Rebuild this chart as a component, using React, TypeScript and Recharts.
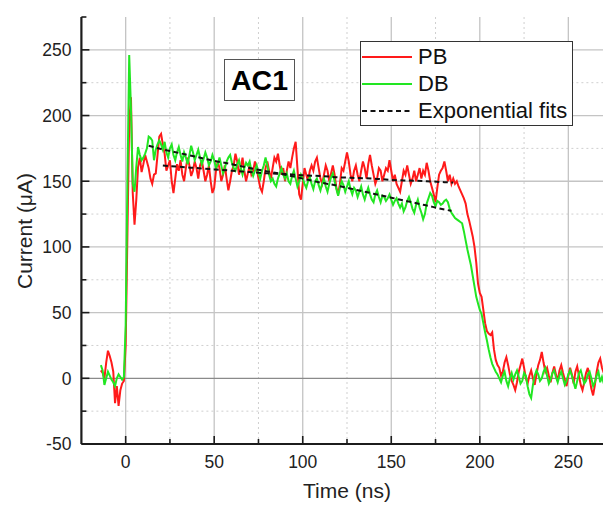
import { LineChart, Line, XAxis, YAxis, ReferenceLine } from 'recharts'

// sampling starts at -14 ns, one sample per ns
const T_START = -14

const pbCurrent = [
  6, 4, 0, 12, 21, 17, 12, 5, -19, -6, -21, -9, -4, -2,
  25, 110, 195, 214, 141, 117, 136, 161, 168, 157,
  163, 170, 165, 160, 152, 148, 155, 156, 170, 184,
  186, 178, 171, 158, 162, 166, 150, 141, 152, 163,
  158, 166, 155, 150, 160, 168, 162, 154, 158, 165,
  160, 152, 162, 166, 158, 150, 155, 162, 150, 141,
  145, 158, 165, 160, 150, 155, 162, 152, 143, 150,
  158, 162, 171, 165, 155, 160, 168, 158, 150, 156,
  162, 155, 158, 165, 160, 152, 145, 142, 150, 160,
  165, 158, 152, 160, 168, 165, 171, 162, 155, 160,
  150, 158, 165, 160, 168, 175, 180, 160, 140, 136,
  148, 160, 155, 150, 158, 162, 158, 165, 168, 160,
  152, 148, 155, 162, 158, 150, 156, 162, 155, 145,
  140, 148, 160, 158, 165, 172, 165, 155, 150, 158,
  162, 155, 150, 158, 165, 160, 152, 163, 170, 162,
  155, 148, 152, 160, 158, 150, 155, 160, 158, 166,
  158, 150, 155, 148, 145, 142, 150, 158, 155, 162,
  155, 148, 152, 158, 150, 155, 160, 152, 158, 155,
  164, 158, 150, 145, 140, 134, 145, 155, 158, 160,
  165, 158, 150, 155, 148, 152, 148, 150, 146, 143,
  140, 137, 133, 125, 120, 114, 108, 100, 88, 72,
  65, 62, 52, 42, 36, 34, 33, 35, 22, 14,
  10, 8, 2, 5, 12, 16, 10, 3, -2, -5,
  -9, -3, 5, 10, 15, 8, 0, -4, 2, 6,
  0, -5, 3, 10, 14, 20, 12, 5, 8, 2,
  -3, 4, 9, 3, -2, 6, 10, 4, -1, -6,
  2, 8, 3, -4, 5, 9, 2, -5, -9, -3,
  4, 8, 0, -8, -13, -5, 5, 12, 15, 8,
  4,
]

const dbCurrent = [
  10, 6, -5, 0, 5, 2, -1, -3, -6, 0, 3, 1, -1, 1,
  40, 150, 246, 205, 148, 142, 161, 176, 170, 166,
  168, 171, 175, 184, 183, 181, 166, 174, 178, 181,
  178, 174, 180, 172, 168, 175, 178, 170, 166, 172,
  176, 170, 165, 172, 168, 163, 170, 177, 172, 166,
  170, 174, 168, 163, 167, 172, 168, 162, 165, 170,
  166, 160, 163, 168, 162, 156, 160, 165, 168, 170,
  164, 160, 158, 163, 166, 160, 155, 160, 164, 162,
  165, 158, 154, 158, 162, 156, 152, 158, 162, 168,
  162, 155, 150, 152, 148, 146, 152, 156, 160, 155,
  152, 156, 150, 148, 154, 158, 152, 146, 150, 155,
  152, 148, 145, 150, 153, 148, 144, 150, 152, 147,
  143, 148, 152, 146, 142, 148, 153, 156, 150, 144,
  139, 145, 150, 147, 142, 146, 150, 144, 140, 145,
  143, 138, 142, 146, 140, 136, 141, 145, 140, 136,
  134, 140, 143, 138, 134, 139, 138, 135, 137, 140,
  136, 132, 135, 137, 133, 130, 133, 127, 130, 135,
  138, 134, 129, 126, 132, 136, 130, 126, 121, 125,
  133, 137, 141, 139, 134, 131, 135, 134, 132, 133,
  135, 136, 134, 129, 126, 124, 122, 121, 120, 119,
  118, 112, 105, 98, 92, 86, 78, 70, 62, 57,
  52, 49, 42, 35, 29, 22, 16, 11, 8, 5,
  3, 0, -3, 2, 5, -2, -6, 0, 4, -1,
  3, 6, 1, -4, -2, 4, 2, -6, -12, -15,
  -5, 2, 6, 3, -2, 0, 5, 8, 2, -4,
  -1, 4, 6, 1, -3, 2, 5, 0, -5, -2,
  3, 6, 2, -3, -8, -2, 4, 6, 1, -4,
  -2, 3, 5, 0, -6, -3, 2, 5, -3, 1,
  -4,
]

const fitTimeDb = [13, 20, 30, 40, 50, 60, 70, 80, 90, 100, 110, 120, 130, 140, 150, 160, 170, 180, 184]
const fitDb = [177, 174.5, 171.5, 168.5, 165.5, 163, 160, 157.5, 155, 152, 149, 146.5, 143.5, 140.5, 137.5, 134.5, 131.5, 128.5, 127.5]
const fitTimePb = [21, 30, 40, 50, 60, 70, 80, 90, 100, 110, 120, 130, 140, 150, 160, 170, 180, 185]
const fitPb = [162, 161, 160, 159, 158, 157, 156, 155.5, 154.5, 154, 153, 152.5, 152, 151, 150.5, 150, 149.3, 149]

const xTicks = [0, 25, 50, 75, 100, 125, 150, 175, 200, 225, 250, 275]
const yTicks = [-50, -25, 0, 25, 50, 75, 100, 125, 150, 175, 200, 225, 250, 275]
const xMajorGrid = [0, 50, 100, 150, 200, 250]
const xMinorGrid = [25, 75, 125, 175, 225]
const yMajorGrid = [50, 100, 150, 200, 250]
const yMinorGrid = [-25, 25, 75, 125, 175, 225]

const legendItems = [
  { label: 'PB', color: '#ff1a1a', dash: undefined },
  { label: 'DB', color: '#22e622', dash: undefined },
  { label: 'Exponential fits', color: '#111', dash: '5 3.5' },
]

const FONT = '"Liberation Sans", Arial, sans-serif'
const AXIS = '#1c1c1c'
const TEXT = '#222'

const toPoints = (ts: number[], vs: number[]) => ts.map((t, i) => ({ t, v: vs[i] }))
const timeNs = pbCurrent.map((_, i) => T_START + i)
const pbData = toPoints(timeNs, pbCurrent)
const dbData = toPoints(timeNs, dbCurrent)
const fitPbData = toPoints(fitTimePb, fitPb)
const fitDbData = toPoints(fitTimeDb, fitDb)

const isMajor = (v: number) => v % 50 === 0

function BottomTick(props: any) {
  const { x, y, payload } = props
  const major = isMajor(payload.value)
  return (
    <g>
      <line x1={x} x2={x} y1={y} y2={y - (major ? 8 : 5)} stroke={AXIS} strokeWidth={1.6} />
      {major && (
        <text x={x} y={y + 24} textAnchor="middle" fontSize={17.5} fill={TEXT} fontFamily={FONT}>
          {payload.value}
        </text>
      )}
    </g>
  )
}

function TopTick(props: any) {
  const { x, y, payload } = props
  const major = isMajor(payload.value)
  return <line x1={x} x2={x} y1={y} y2={y + (major ? 8 : 5)} stroke={AXIS} strokeWidth={1.6} />
}

function LeftTick(props: any) {
  const { x, y, payload } = props
  const major = isMajor(payload.value)
  return (
    <g>
      <line x1={x} x2={x + (major ? 8 : 5)} y1={y} y2={y} stroke={AXIS} strokeWidth={1.6} />
      {major && (
        <text x={x - 10} y={y + 6.3} textAnchor="end" fontSize={17.5} fill={TEXT} fontFamily={FONT}>
          {payload.value}
        </text>
      )}
    </g>
  )
}

export default function App() {
  return (
    <div
      style={{
        position: 'absolute',
        left: 0,
        top: 0,
        width: 603,
        height: 505,
        overflow: 'hidden',
        background: '#fff',
        fontFamily: FONT,
      }}
    >
      <LineChart width={620} height={505} margin={{ top: 17, right: 7.4, left: 0, bottom: 0 }}>
        {yMinorGrid.map((v) => (
          <ReferenceLine key={`ym${v}`} y={v} xAxisId="bottom" stroke="#cfcfcf" strokeDasharray="2 3" />
        ))}
        {xMinorGrid.map((v) => (
          <ReferenceLine key={`xm${v}`} x={v} xAxisId="bottom" stroke="#cfcfcf" strokeDasharray="2 3" />
        ))}
        {yMajorGrid.map((v) => (
          <ReferenceLine key={`yM${v}`} y={v} xAxisId="bottom" stroke="#c4c4c4" strokeWidth={1.3} />
        ))}
        {xMajorGrid.map((v) => (
          <ReferenceLine key={`xM${v}`} x={v} xAxisId="bottom" stroke="#c4c4c4" strokeWidth={1.3} />
        ))}
        <ReferenceLine y={0} xAxisId="bottom" stroke="#8a8a8a" strokeWidth={1.2} />

        <XAxis
          xAxisId="top"
          orientation="top"
          type="number"
          dataKey="t"
          domain={[-25, 275]}
          ticks={xTicks}
          interval={0}
          allowDataOverflow
          height={0}
          tickSize={0}
          tickMargin={0}
          tickLine={false}
          tick={<TopTick />}
          axisLine={{ stroke: AXIS, strokeWidth: 1.6 }}
        />
        <XAxis
          xAxisId="bottom"
          type="number"
          dataKey="t"
          domain={[-25, 275]}
          ticks={xTicks}
          interval={0}
          allowDataOverflow
          height={61}
          tickSize={0}
          tickMargin={0}
          tickLine={false}
          tick={<BottomTick />}
          axisLine={{ stroke: AXIS, strokeWidth: 2.2 }}
          label={{ value: 'Time (ns)', position: 'insideBottom', offset: 7, fontSize: 21, fill: TEXT }}
        />
        <YAxis
          type="number"
          dataKey="v"
          domain={[-50, 275]}
          ticks={yTicks}
          interval={0}
          allowDataOverflow
          width={81.4}
          tickSize={0}
          tickMargin={0}
          tickLine={false}
          tick={<LeftTick />}
          axisLine={{ stroke: AXIS, strokeWidth: 2.2 }}
        />

        <Line
          xAxisId="bottom"
          data={pbData}
          dataKey="v"
          type="linear"
          stroke="#ff1a1a"
          strokeWidth={2}
          dot={false}
          isAnimationActive={false}
        />
        <Line
          xAxisId="bottom"
          data={dbData}
          dataKey="v"
          type="linear"
          stroke="#22e622"
          strokeWidth={2}
          dot={false}
          isAnimationActive={false}
        />
        <Line
          xAxisId="bottom"
          data={fitPbData}
          dataKey="v"
          type="monotone"
          stroke="#111"
          strokeWidth={2}
          strokeDasharray="5 3.5"
          dot={false}
          isAnimationActive={false}
        />
        <Line
          xAxisId="bottom"
          data={fitDbData}
          dataKey="v"
          type="monotone"
          stroke="#111"
          strokeWidth={2}
          strokeDasharray="5 3.5"
          dot={false}
          isAnimationActive={false}
        />
      </LineChart>

      <div
        style={{
          position: 'absolute',
          left: 25,
          top: 231,
          transform: 'translate(-50%, -50%) rotate(-90deg)',
          fontSize: 21,
          color: TEXT,
          whiteSpace: 'nowrap',
          lineHeight: '24px',
        }}
      >
        Current (μA)
      </div>

      <div
        style={{
          position: 'absolute',
          left: 224,
          top: 59,
          width: 71,
          height: 42,
          boxSizing: 'border-box',
          border: '1.5px solid #555',
          background: '#fff',
          display: 'flex',
          alignItems: 'center',
          justifyContent: 'center',
          fontWeight: 'bold',
          fontSize: 28.5,
          color: '#000',
        }}
      >
        AC1
      </div>

      <div
        style={{
          position: 'absolute',
          left: 360,
          top: 41,
          width: 213,
          height: 85,
          boxSizing: 'border-box',
          border: '1px solid #333',
          background: '#fff',
        }}
      >
        {legendItems.map((item, i) => (
          <div
            key={item.label}
            style={{
              position: 'absolute',
              left: 0,
              top: 1.5 + i * 27,
              height: 26,
              display: 'flex',
              alignItems: 'center',
              whiteSpace: 'nowrap',
            }}
          >
            <svg width={57} height={4} style={{ display: 'block' }}>
              <line
                x1={1}
                x2={51}
                y1={2}
                y2={2}
                stroke={item.color}
                strokeWidth={2}
                strokeDasharray={item.dash}
              />
            </svg>
            <span style={{ fontSize: 22, color: '#111', lineHeight: '26px' }}>{item.label}</span>
          </div>
        ))}
      </div>
    </div>
  )
}
